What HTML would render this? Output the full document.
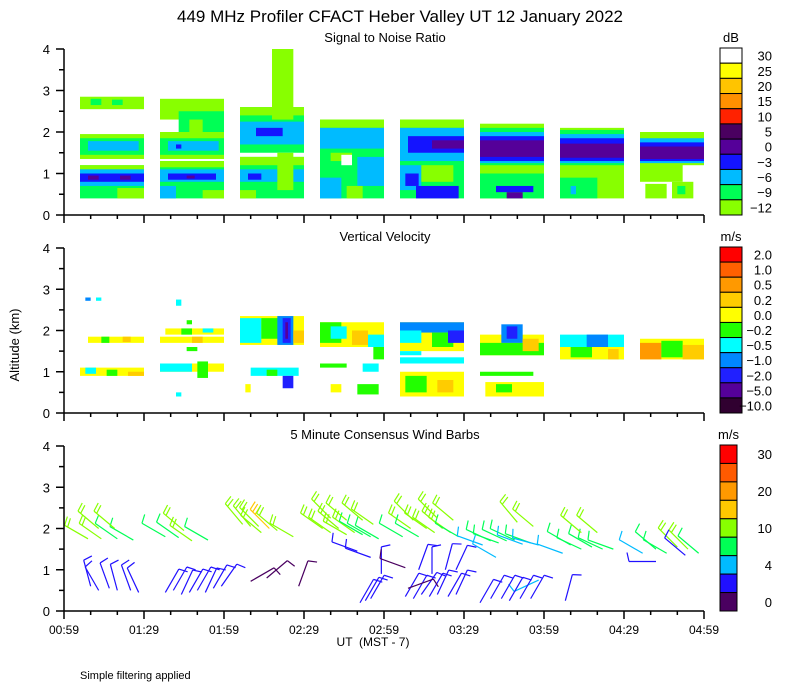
<!DOCTYPE html>
<html><head><meta charset="utf-8"><style>
html,body{margin:0;padding:0;background:#fff;}
svg{display:block;font-family:"Liberation Sans",sans-serif;}
</style></head><body>
<svg id="chart" width="800" height="700" viewBox="0 0 800 700" xmlns="http://www.w3.org/2000/svg">
<text x="400" y="22" text-anchor="middle" font-size="17">449 MHz Profiler CFACT Heber Valley UT 12 January 2022</text>
<text x="385" y="42" text-anchor="middle" font-size="13">Signal to Noise Ratio</text>
<text x="385" y="241" text-anchor="middle" font-size="13">Vertical Velocity</text>
<text x="385" y="439" text-anchor="middle" font-size="13">5 Minute Consensus Wind Barbs</text>
<text transform="translate(19,345) rotate(-90)" text-anchor="middle" font-size="13">Altitude (km)</text>
<text x="373" y="646" text-anchor="middle" font-size="12" xml:space="preserve">UT  (MST - 7)</text>
<text x="80" y="679" font-size="11">Simple filtering applied</text>
<g id="layer"></g>
</svg>
<script>
// ---- data ----
const xTickLabels = ["00:59","01:29","01:59","02:29","02:59","03:29","03:59","04:29","04:59"];
const yTickLabels = ["0","1","2","3","4"];
const snrColors = ["#88ff00","#00ff55","#00bbff","#1414ff","#550099","#4a0060","#ff2200","#ff9000","#ffc400","#ffff00","#ffffff"];
const snrLabels = ["-12","-9","-6","-3","0","5","10","15","20","25","30"];
const velColors = ["#300030","#550099","#2020ff","#0088ff","#00ffff","#22ff00","#ffff00","#ffcc00","#ff9900","#ff6000","#ff0000"];
const velLabels = ["-10.0","-5.0","-2.0","-1.0","-0.5","-0.2","0.0","0.2","0.5","1.0","2.0"];
const windColors = ["#4a0060","#2010ff","#00bbff","#00ff55","#88ff00","#ffc800","#ff9900","#ff5a00","#ff0000"];
const windSpeedBins = [0,2,4,7,10,15,20,25,30];
const windLabels = ["0","","4","","10","","20","","30"];
// SNR bands: [tStart(min after 00:59), tEnd, altBottom(km), altTop, colorIndex]
const snrBands = [
 [6,30,2.55,2.85,0],[10,14,2.65,2.8,1],[18,22,2.65,2.78,1],
 [6,30,1.35,1.95,0],[6,30,1.45,1.85,1],[9,28,1.55,1.78,2],
 [6,30,0.4,1.2,1],[6,30,1.1,1.2,0],[6,30,0.7,1.1,2],[6,30,0.8,1.0,3],[9,13,0.85,0.95,4],[21,25,0.85,0.95,4],[20,30,0.4,0.65,0],
 [36,60,2.3,2.8,0],[43,60,1.9,2.5,1],[47,52,2.0,2.3,0],
 [36,60,1.35,2.0,0],[36,60,1.45,1.85,1],[39,58,1.55,1.78,2],[42,44,1.6,1.7,3],
 [36,60,0.4,1.3,1],[36,60,1.15,1.3,0],[36,60,0.8,1.1,2],[39,57,0.85,1.0,3],[46,49,0.88,0.95,4],[36,42,0.4,0.7,2],[52,60,0.4,0.6,0],
 [66,90,1.5,2.6,1],[66,90,1.7,2.25,2],[72,82,1.9,2.1,3],[78,86,2.3,4.0,0],[66,90,2.4,2.6,0],
 [66,90,0.4,1.4,1],[66,90,1.2,1.4,0],[66,90,0.8,1.1,2],[69,74,0.85,1.0,3],[66,72,0.4,0.6,0],[80,86,0.6,1.5,0],
 [96,120,0.4,2.3,1],[96,120,2.1,2.3,0],[96,120,1.6,2.1,2],[100,108,1.3,1.5,0],[104,108,1.2,1.45,10],[110,120,0.7,1.4,2],[96,104,0.4,0.9,2],[106,112,0.4,0.7,0],
 [126,150,0.4,2.3,1],[126,150,2.1,2.3,0],[126,150,1.3,2.1,2],[129,150,1.5,1.9,3],[138,150,1.6,1.8,4],[126,134,0.6,1.2,2],[128,133,0.7,1.0,3],[132,148,0.4,0.7,3],[134,146,0.8,1.2,0],
 [156,180,0.4,2.2,0],[156,180,1.2,2.1,1],[156,180,1.25,2.0,2],[156,180,1.3,1.9,3],[156,180,1.4,1.8,4],[156,180,0.4,1.0,1],[166,172,0.4,0.55,4],[162,176,0.55,0.7,3],
 [186,210,0.4,2.1,0],[186,210,1.2,2.05,1],[186,210,1.25,1.95,2],[186,210,1.3,1.85,3],[186,210,1.38,1.72,4],[186,200,0.4,0.9,1],[190,192,0.5,0.7,2],
 [216,232,0.8,2.0,0],[216,240,1.2,2.0,0],[216,240,1.25,1.85,2],[216,240,1.3,1.75,3],[216,240,1.35,1.65,4],[218,226,0.4,0.75,0],[228,236,0.4,0.8,0],[230,233,0.5,0.7,1]
];
// Vertical velocity bands: [tStart, tEnd, altBottom, altTop, colorIndex]
const velBands = [
 [8,10,2.72,2.8,3],[12,14,2.72,2.8,4],
 [9,30,1.7,1.85,6],[14,17,1.7,1.85,5],[22,25,1.72,1.85,7],
 [6,30,0.9,1.1,6],[8,12,0.95,1.1,4],[16,20,0.9,1.05,5],[24,30,0.9,1.0,7],
 [42,44,2.6,2.75,4],[46,48,2.15,2.25,5],[38,60,1.9,2.05,6],[44,48,1.9,2.05,5],[52,56,1.95,2.05,4],
 [36,60,1.7,1.85,6],[48,52,1.7,1.85,7],[46,50,1.5,1.6,5],
 [36,60,1.0,1.2,6],[36,48,1.0,1.2,4],[50,54,0.85,1.25,5],[42,44,0.4,0.5,4],
 [66,90,1.65,2.35,6],[66,74,1.7,2.3,4],[74,82,1.8,2.3,5],[80,86,1.65,2.35,3],[82,85,1.7,2.3,2],[83,84,1.8,2.2,1],[86,90,1.7,2.0,7],
 [70,88,0.9,1.1,4],[76,80,0.9,1.05,5],[68,70,0.5,0.7,6],[82,86,0.6,0.9,2],
 [96,120,1.6,2.2,6],[96,104,1.7,2.2,5],[100,106,1.8,2.1,4],[108,114,1.65,2.0,7],[114,120,1.6,1.9,4],[116,120,1.3,1.6,5],
 [96,106,1.1,1.2,5],[112,118,1.0,1.2,4],[100,104,0.5,0.7,6],[110,118,0.45,0.7,5],
 [126,150,1.5,2.2,6],[126,150,1.95,2.2,3],[126,134,1.7,2.0,4],[138,146,1.6,1.95,5],[144,150,1.7,2.0,2],
 [126,150,1.2,1.35,4],[126,134,1.4,1.5,4],[126,150,0.4,1.0,6],[128,136,0.5,0.9,5],[140,146,0.5,0.8,7],
 [156,180,1.4,1.9,6],[156,180,1.4,1.7,5],[164,172,1.7,2.15,3],[166,170,1.8,2.1,2],[172,178,1.5,1.8,7],
 [156,176,0.9,1.0,5],[158,180,0.4,0.75,6],[162,168,0.5,0.7,5],
 [186,210,1.3,1.9,4],[186,210,1.3,1.6,6],[190,198,1.35,1.6,5],[196,204,1.6,1.9,3],[204,208,1.3,1.55,7],
 [216,240,1.3,1.8,6],[216,224,1.3,1.7,8],[224,232,1.35,1.75,5],[232,240,1.3,1.65,7]
];
// Wind barbs: [t, alt(km), speed(m/s), direction(deg from)]
const barbs = [
 [9,1.75,11,300],[14,1.75,11,305],[20,1.75,9,305],[26,1.72,8,300],[13,2.0,12,310],[19,2.0,12,310],
 [10,0.6,3,345],[13,0.5,3,330],[17,0.55,3,340],[20,0.5,3,345],[25,0.5,3,340],[28,0.45,3,335],
 [38,1.8,8,300],[43,1.78,8,305],[48,1.7,10,305],[54,1.72,8,300],[45,1.95,11,310],
 [38,0.45,3,30],[41,0.5,3,30],[44,0.4,3,25],[47,0.45,3,30],[50,0.5,3,30],[53,0.45,3,25],[56,0.55,3,30],[59,0.6,3,35],
 [67,2.1,12,320],[70,2.05,12,320],[73,2.05,14,315],[77,2.0,16,315],[80,1.95,12,310],[86,1.8,10,300],[74,1.9,11,310],
 [70,0.72,1.5,60],[76,0.8,1.5,50],[88,0.6,1.5,20],
 [97,2.0,12,305],[100,1.9,11,305],[103,2.0,12,310],[106,1.85,10,300],[109,1.9,10,305],[112,1.85,9,300],[115,1.8,9,300],[118,1.75,8,300],
 [100,2.25,13,315],[106,2.2,12,310],[112,2.2,12,310],[116,2.1,11,305],
 [110,1.45,3,290],[115,1.3,3,290],[119,0.9,3,0],
 [111,0.2,3,30],[113,0.25,3,30],[115,0.3,3,30],
 [127,1.8,9,300],[130,2.0,11,305],[133,1.8,9,300],[136,2.0,12,305],[139,1.9,11,305],[142,2.0,12,310],[145,1.9,11,305],[148,1.8,9,300],
 [131,2.2,13,315],[140,2.25,13,315],[146,2.2,12,310],
 [128,1.05,1.5,290],[133,1.0,3,20],[138,0.9,3,0],[143,1.0,3,15],[147,1.0,3,25],
 [128,0.35,3,30],[131,0.3,3,30],[134,0.4,3,35],[137,0.35,3,30],[140,0.4,3,25],[144,0.35,3,30],[147,0.4,3,25],[129,0.55,1.5,70],
 [157,1.6,6,290],[160,1.7,8,295],[163,1.65,7,290],[166,1.7,8,295],[169,1.72,8,295],[172,1.62,6,290],[175,1.65,7,290],[178,1.6,6,285],
 [170,2.15,12,320],[176,2.05,11,310],[162,1.3,5,300],[178,0.75,5,245],
 [156,0.2,3,30],[160,0.3,3,30],[164,0.3,3,30],[167,0.25,3,30],[171,0.3,3,30],[175,0.3,3,30],
 [187,1.4,6,290],[190,1.6,8,300],[194,1.5,7,295],[198,1.55,8,300],[202,1.5,7,295],[206,1.5,7,290],[194,1.9,10,310],[200,1.9,10,310],
 [188,0.25,3,15],
 [217,1.4,6,300],[222,1.5,9,310],[226,1.4,7,300],[230,1.55,10,315],[234,1.5,10,315],[238,1.4,8,310],[233,1.35,3,310],[222,1.2,3,270]
];

// ---- geometry ----
const X0 = 64, X1 = 704, T_SPAN = 240;
const panels = [
  {name:"snr", y0:215, y4:49},
  {name:"velocity", y0:413, y4:248},
  {name:"wind", y0:611, y4:446}
];
const xScale = t => X0 + t * (X1 - X0) / T_SPAN;
const yScale = (p, a) => p.y0 - a * (p.y0 - p.y4) / 4;

const NS = "http://www.w3.org/2000/svg";
const layer = document.getElementById('layer');
function mk(tag, attrs, parent){
  const e = document.createElementNS(NS, tag);
  for (const k in attrs) e.setAttribute(k, attrs[k]);
  (parent || layer).appendChild(e);
  return e;
}

function drawBands(p, bands, colors, nm){
  const g = mk('g', {});
  
  
  bands.forEach(b => {
    const r = mk('rect', {x: xScale(b[0]), y: yScale(p, b[3]), width: xScale(b[1]) - xScale(b[0]), height: yScale(p, b[2]) - yScale(p, b[3]), fill: colors[b[4]]}, g);
    
    
  });
}
drawBands(panels[0], snrBands, snrColors, 'snr');
drawBands(panels[1], velBands, velColors, 'velocity');

function speedColor(s){
  let i = 0;
  for (let k = 0; k < windSpeedBins.length; k++) if (s >= windSpeedBins[k]) i = k;
  return windColors[Math.min(i, windColors.length - 1)];
}
const gb = mk('g', {'stroke-width': 1.2, fill: 'none'});


barbs.forEach(b => {
  const p = panels[2];
  const x = xScale(b[0]), y = yScale(p, b[1]);
  const d = b[3] * Math.PI / 180;
  const ux = Math.sin(d), uy = -Math.cos(d);
  const L = 27;
  const ex = x + ux * L, ey = y + uy * L;
  const col = speedColor(b[2]);
  const g = mk('g', {stroke: col}, gb);
  
  
  mk('line', {x1: x, y1: y, x2: ex, y2: ey}, g);
  const fx = -uy, fy = ux;
  const n = Math.max(1, Math.floor(b[2] / 5));
  for (let k = 0; k < n; k++){
    const sx = ex - ux * k * 3.5, sy = ey - uy * k * 3.5;
    mk('line', {x1: sx, y1: sy, x2: sx + fx * 9 + ux * 2, y2: sy + fy * 9 + uy * 2}, g);
  }
});

panels.forEach((p, pi) => {
  const g = mk('g', {stroke: '#000', 'stroke-width': 1.5});
  
  
  mk('line', {x1: X0, y1: p.y4, x2: X0, y2: p.y0}, g);
  mk('line', {x1: X0, y1: p.y0, x2: X1, y2: p.y0}, g);
  for (let a = 0; a <= 4; a += 0.5){
    const y = yScale(p, a);
    const major = Number.isInteger(a);
    mk('line', {x1: X0 - (major ? 8 : 5), y1: y, x2: X0, y2: y}, g);
    if (major){
      const t = mk('text', {x: X0 - 14, y: y + 5, 'text-anchor': 'end', 'font-size': 13, stroke: 'none', fill: '#000'});
      
      
      t.textContent = yTickLabels[a];
    }
  }
  for (let t = 0; t <= T_SPAN; t += 10){
    const x = xScale(t);
    const major = t % 30 === 0;
    mk('line', {x1: x, y1: p.y0, x2: x, y2: p.y0 + (major ? 8 : 4)}, g);
    if (major && pi === 2){
      const tx = mk('text', {x: x, y: p.y0 + 23, 'text-anchor': 'middle', 'font-size': 12, stroke: 'none', fill: '#000'});
      
      
      tx.textContent = xTickLabels[t / 30];
    }
  }
});

function colorbar(p, colors, labels, unit, nm, w){
  const g = mk('g', {});
  
  
  const top = p.y4 - 1, bot = p.y0, n = colors.length, h = (bot - top) / n;
  colors.forEach((c, i) => {
    const idx = n - 1 - i;
    mk('rect', {x: 720, y: top + i * h, width: w, height: h, fill: colors[idx], stroke: '#000', 'stroke-width': 1}, g);
    if (labels[idx]){
      const t = mk('text', {x: 772, y: top + i * h + h / 2 + 5, 'text-anchor': 'end', 'font-size': 13}, g);
      
      
      t.textContent = labels[idx].replace('-', '\u2212');
    }
  });
  const u = mk('text', {x: 720 + w / 2, y: top - 6, 'text-anchor': 'middle', 'font-size': 13}, g);
  
  
  u.textContent = unit;
}
colorbar(panels[0], snrColors, snrLabels, 'dB', 'snr', 22);
colorbar(panels[1], velColors, velLabels, 'm/s', 'velocity', 22);
colorbar(panels[2], windColors, windLabels, 'm/s', 'wind', 17);
</script>
</body></html>
